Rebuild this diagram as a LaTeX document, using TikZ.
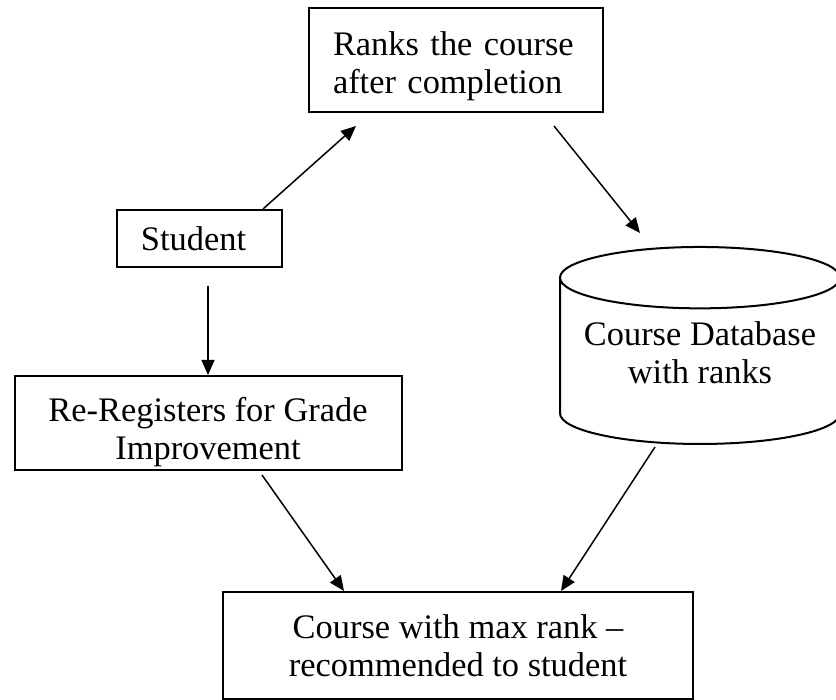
\documentclass[tikz,border=0pt]{standalone}
\usepackage{fontspec}
\setmainfont{Liberation Serif}
\usepackage{tikz}
\usetikzlibrary{positioning,shapes.geometric,arrows.meta}
\tikzset{
  stepbox/.style={draw, line width=1pt, rectangle, align=center, font=\fontsize{17.2}{19}\selectfont},
  flow/.style={-{Triangle[length=7.5pt,width=6.5pt]}, line width=0.75pt},
}

\begin{document}
\begin{tikzpicture}[x=0.5pt,y=0.5pt]
\useasboundingbox (0,0) rectangle (836,700);

\node[stepbox, minimum width=147pt, minimum height=52pt, text width=123pt, align=left, inner ysep=0pt, text height=18pt] (rank) at (456,640) {Ranks the course\\ after completion};
\node[stepbox, minimum width=82.5pt, minimum height=28.5pt] (student) at (199.5,461.5) {Student\hspace*{6pt}};
\node[stepbox, minimum width=193.5pt, minimum height=47pt, inner ysep=0pt, text height=40pt] (rereg) at (208,277) {Re-Registers for Grade\\ Improvement};
\node[draw, line width=1pt, cylinder, shape border rotate=90, aspect=0.25, minimum width=140pt, minimum height=98.5pt, align=center, text depth=13pt, font=\fontsize{17.2}{19}\selectfont] (db) at (700,334) {Course Database\\ with ranks};
\node[stepbox, minimum width=235pt, minimum height=53.5pt] (rec) at (458,54.5) {Course with max rank --\\ recommended to student};

\draw[flow] ([xshift=-10pt]student.north east) -- ([xshift=24pt,yshift=-6.5pt]rank.south west);
\draw[flow] ([xshift=-25pt,yshift=-6.5pt]rank.south east) -- ([xshift=-30pt,yshift=6.5pt]db.north);
\draw[flow] ([xshift=4.25pt,yshift=-9pt]student.south) -- (rereg.north);
\draw[flow] ([xshift=27pt,yshift=-2pt]rereg.south) -- ([xshift=61pt]rec.north west);
\draw[flow] ([xshift=-22.5pt,yshift=-1pt]db.south) -- ([xshift=-66.5pt]rec.north east);
\end{tikzpicture}
\end{document}
